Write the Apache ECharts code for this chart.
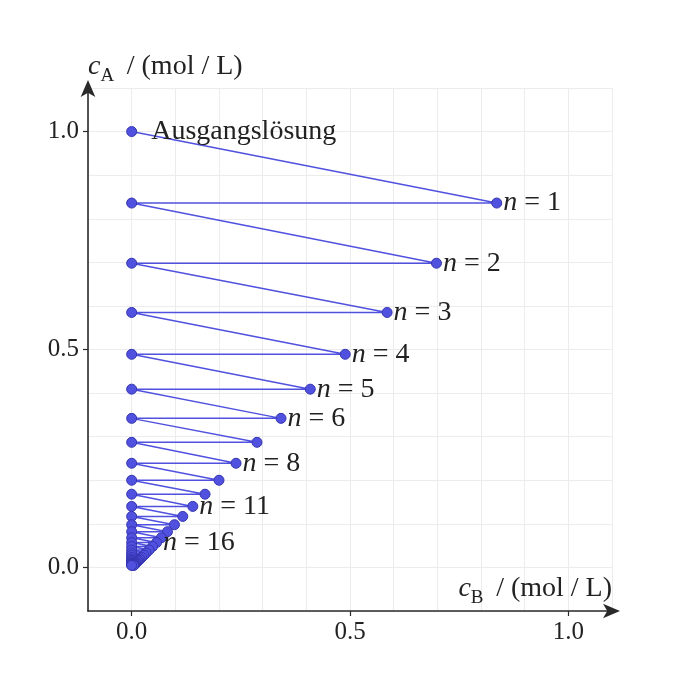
<!DOCTYPE html>
<html>
<head>
<meta charset="utf-8">
<script src="https://cdn.jsdelivr.net/npm/echarts@6/dist/echarts.min.js"></script>
<style>
html,body{margin:0;padding:0;background:#fff;}
#chart{width:700px;height:700px;}
</style>
</head>
<body>
<div id="chart"></div>
<script>
// concentration of A after n steps (n = 0 is the starting solution)
const cA = [1.0, 0.836, 0.698, 0.585, 0.489, 0.409, 0.342, 0.287, 0.239, 0.200, 0.168,
            0.140, 0.117, 0.098, 0.082, 0.068, 0.057, 0.048, 0.040, 0.033, 0.028,
            0.023, 0.019, 0.016, 0.0135, 0.011, 0.0094, 0.0078, 0.0065, 0.0055, 0.0046];
// concentration of B after n steps (equal to cA at each step end point)
const cB = [0.0, 0.836, 0.698, 0.585, 0.489, 0.409, 0.342, 0.287, 0.239, 0.200, 0.168,
            0.140, 0.117, 0.098, 0.082, 0.068, 0.057, 0.048, 0.040, 0.033, 0.028,
            0.023, 0.019, 0.016, 0.0135, 0.011, 0.0094, 0.0078, 0.0065, 0.0055, 0.0046];
const labelledSteps = [1, 2, 3, 4, 5, 6, 8, 11, 16];
const startLabel = 'Ausgangslösung';
const xTickValues = [0, 0.5, 1.0];
const yTickValues = [0, 0.5, 1.0];
const axisRange = [-0.1, 1.1];
const gridStep = 0.1;

const FONT = '"Liberation Serif", "Times New Roman", serif';
const BLUE = '#5151e0';
const INK = '#222';

const pts = [];
pts.push({value: [0, cA[0]], label: {show: true, position: 'right', distance: 14, formatter: startLabel}});
for (let n = 1; n < cA.length; n++) {
  const p = {value: [cB[n], cA[n]]};
  if (labelledSteps.indexOf(n) >= 0) {
    p.label = {show: true, position: 'right', distance: 1, formatter: '{i|n} = ' + n};
  }
  pts.push(p);
  pts.push({value: [0, cA[n]]});
}

const nameRich = {
  c: {fontFamily: FONT, fontSize: 28, fontStyle: 'italic', color: INK, lineHeight: 28, padding: [0, 0, 5, 0], verticalAlign: 'bottom'},
  s: {fontFamily: FONT, fontSize: 19, color: INK, lineHeight: 19, verticalAlign: 'bottom'},
  r: {fontFamily: FONT, fontSize: 28, color: INK, lineHeight: 28, padding: [0, 0, 5, 0], verticalAlign: 'bottom'}
};

// grid axis: carries split lines every 0.1, the axis line and the arrow
function gridAxis() {
  return {
    type: 'value',
    min: axisRange[0], max: axisRange[1], interval: gridStep,
    axisLine: {show: true, onZero: false, symbol: ['none', 'arrow'], symbolSize: [11, 17], symbolOffset: [0, 8],
               lineStyle: {color: '#2a2a2a', width: 1.6}},
    axisTick: {show: false},
    axisLabel: {show: false},
    splitLine: {show: true, lineStyle: {color: '#ececec', width: 1}},
    nameTextStyle: {rich: nameRich}
  };
}
// label axis: carries ticks and labels at 0.0 / 0.5 / 1.0
function labelAxis(ticks, pos) {
  return {
    type: 'value', position: pos,
    min: axisRange[0], max: axisRange[1], interval: gridStep,
    axisLine: {show: false, onZero: false},
    axisTick: {show: true, customValues: ticks, length: 5, lineStyle: {color: '#2a2a2a', width: 1.2}},
    axisLabel: {customValues: ticks, formatter: v => v.toFixed(1), fontFamily: FONT, fontSize: 25, color: INK, margin: 9},
    splitLine: {show: false}
  };
}

const xAxis0 = Object.assign(gridAxis(), {
  position: 'bottom',
  name: '{c|c}{s|B}{r|\u2009 / (mol / L)}',
  nameLocation: 'end', nameGap: 0,
  nameTextStyle: {rich: nameRich, align: 'right', verticalAlign: 'bottom', padding: [0, 0, 3, 0]}
});
const yAxis0 = Object.assign(gridAxis(), {
  position: 'left',
  name: '{c|c}{s|A}{r|\u2009 / (mol / L)}',
  nameLocation: 'end', nameGap: 2,
  nameTextStyle: {rich: nameRich, align: 'left', verticalAlign: 'bottom'}
});

const chart = echarts.init(document.getElementById('chart'), null, {renderer: 'canvas'});
chart.setOption({
  animation: false,
  backgroundColor: '#fff',
  grid: {left: 88, right: 88, top: 88, bottom: 89, containLabel: false},
  xAxis: [xAxis0, labelAxis(xTickValues, 'bottom')],
  yAxis: [yAxis0, labelAxis(yTickValues, 'left')],
  series: [{
    type: 'line',
    xAxisIndex: 0, yAxisIndex: 0,
    data: pts,
    symbol: 'circle',
    symbolSize: 10,
    showSymbol: true,
    showAllSymbol: true,
    clip: false,
    lineStyle: {color: BLUE, width: 1.5},
    itemStyle: {color: BLUE, borderColor: '#3535b0', borderWidth: 1},
    label: {fontFamily: FONT, fontSize: 28, color: INK, rich: {i: {fontFamily: FONT, fontSize: 28, fontStyle: 'italic', color: INK}}},
    emphasis: {disabled: true},
    z: 3
  }]
});
</script>
</body>
</html>
